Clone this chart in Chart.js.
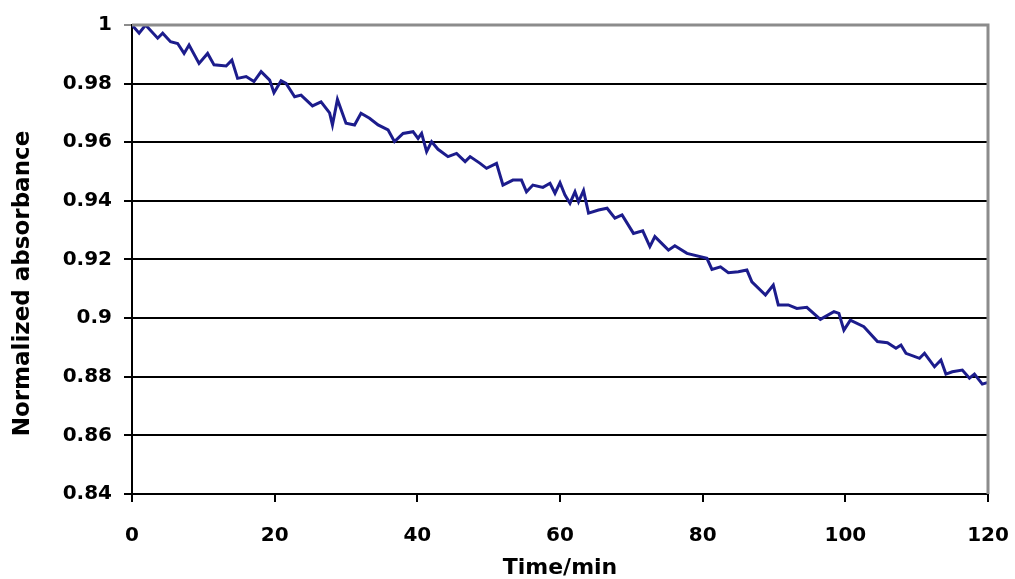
<!DOCTYPE html>
<html>
<head>
<meta charset="utf-8">
<script src="https://cdn.jsdelivr.net/npm/chart.js@4/dist/chart.umd.min.js"></script>
<style>
  html, body { margin: 0; padding: 0; background: #fff; }
  #wrap { width: 1015px; height: 579px; position: relative; }
</style>
</head>
<body>
<div id="wrap"><canvas id="c"></canvas></div>
<script>
// ── Absorbance decay over time ──
const timeMin = [
  0, 1.0, 1.9, 3.6, 4.3, 5.4, 6.4, 7.3, 8.0, 9.4, 10.6, 11.5, 13.2, 14.0, 14.8, 16.0, 17.1, 18.1, 19.3, 19.9,
  20.9, 21.6, 22.8, 23.7, 25.3, 26.5, 27.7, 28.1, 28.8, 30.0, 31.2, 32.1, 33.3, 34.5, 35.9, 36.8, 38.0, 39.4,
  40.1, 40.6, 41.3, 42.0, 42.9, 44.3, 45.5, 46.7, 47.4, 48.8, 49.7, 51.1, 52.0, 53.4, 54.6, 55.3, 56.2, 57.6,
  58.6, 59.3, 60.0, 60.7, 61.4, 62.1, 62.6, 63.3, 64.0, 65.4, 66.6, 67.7, 68.7, 70.3, 71.6, 72.6, 73.3, 75.2,
  76.1, 77.8, 80.6, 81.3, 82.5, 83.6, 85.0, 86.2, 86.9, 88.8, 89.9, 90.6, 92.0, 93.2, 94.6, 96.5, 98.4, 99.1,
  99.8, 100.7, 102.6, 104.5, 105.9, 107.1, 107.8, 108.5, 110.4, 111.1, 112.5, 113.4, 114.1, 115.0, 116.4,
  117.4, 118.1, 119.2, 119.9
];
const absorbance = [
  1.0, 0.9972, 1.0, 0.9955, 0.9972, 0.9943, 0.9937, 0.9903, 0.9932, 0.9869, 0.9903, 0.9864, 0.986, 0.988, 0.9818,
  0.9824, 0.9807, 0.9841, 0.9812, 0.9769, 0.981, 0.9801, 0.9755, 0.9761, 0.9724, 0.9738, 0.970, 0.9659, 0.9746,
  0.9665, 0.9659, 0.9699, 0.9682, 0.9659, 0.9642, 0.9602, 0.963, 0.9636, 0.9613, 0.963, 0.9568, 0.9602, 0.9576,
  0.9551, 0.9562, 0.9534, 0.9551, 0.9528, 0.9511, 0.9528, 0.9454, 0.9471, 0.9471, 0.9431, 0.9454, 0.9446, 0.946,
  0.9426, 0.9462, 0.942, 0.9392, 0.9431, 0.9397, 0.9435, 0.9358, 0.9369, 0.9375, 0.9341, 0.9352, 0.9289, 0.9298,
  0.9244, 0.9278, 0.9232, 0.9247, 0.9221, 0.9204, 0.9166, 0.9175, 0.9155, 0.9158, 0.9164, 0.9124, 0.9079, 0.9113,
  0.9045, 0.9045, 0.9033, 0.9037, 0.8996, 0.9022, 0.9016, 0.8959, 0.8993, 0.8971, 0.892, 0.8916, 0.8897, 0.8908,
  0.888, 0.8863, 0.888, 0.8834, 0.8857, 0.8809, 0.8817, 0.8823, 0.8795, 0.8809, 0.8775, 0.878
];
const xTicks = [0, 20, 40, 60, 80, 100, 120];
const yTicks = [0.84, 0.86, 0.88, 0.9, 0.92, 0.94, 0.96, 0.98, 1];

const points = timeMin.map((t, i) => ({ x: t, y: absorbance[i] }));
const FONT = 'DejaVu Sans';

// gray frame on the top and right edges of the plot
const frame = {
  id: 'frame',
  afterDraw(chart) {
    const a = chart.chartArea, ctx = chart.ctx;
    ctx.save();
    ctx.strokeStyle = '#8c8c8c';
    ctx.lineWidth = 3;
    ctx.beginPath();
    ctx.moveTo(a.left, a.top);
    ctx.lineTo(a.right, a.top);
    ctx.lineTo(a.right, a.bottom);
    ctx.stroke();
    ctx.restore();
  }
};

new Chart(document.getElementById('c'), {
  type: 'line',
  data: {
    datasets: [{
      data: points,
      borderColor: '#1c1c8c',
      borderWidth: 3,
      pointRadius: 0,
      tension: 0,
      fill: false
    }]
  },
  options: {
    responsive: true,
    maintainAspectRatio: false,
    animation: false,
    layout: { autoPadding: false, padding: { top: 25, right: 27, left: 0, bottom: 0 } },
    plugins: { legend: { display: false }, tooltip: { enabled: false } },
    scales: {
      x: {
        type: 'linear',
        min: 0, max: 120,
        afterBuildTicks: s => { s.ticks = xTicks.map(v => ({ value: v })); },
        // fixed box height, and no extra edge padding for the end labels
        afterFit: s => { s.height = 85; s.paddingLeft = 0; s.paddingRight = 0; },
        border: { color: '#000', width: 2 },
        grid: { drawOnChartArea: false, drawTicks: true, tickLength: 8, color: '#000', lineWidth: 2 },
        ticks: { color: '#000', padding: 22, maxRotation: 0, font: { family: FONT, weight: 'bold', size: 20 } },
        title: { display: true, text: 'Time/min', color: '#000', padding: { top: 0, bottom: 0 },
                 font: { family: FONT, weight: 'bold', size: 22, lineHeight: 1 } }
      },
      y: {
        min: 0.84, max: 1,
        afterBuildTicks: s => { s.ticks = yTicks.map(v => ({ value: v })); },
        afterFit: s => { s.width = 132; s.paddingTop = 0; s.paddingBottom = 0; },
        border: { color: '#000', width: 2 },
        grid: {
          drawTicks: true, tickLength: 8, lineWidth: 2,
          color: c => (c.tick && c.tick.value === 1 ? '#8c8c8c' : '#000')
        },
        ticks: {
          color: '#000', padding: 12,
          font: { family: FONT, weight: 'bold', size: 20 },
          callback: v => String(Math.round(v * 100) / 100)
        },
        // trailing spaces nudge the rotated title down to where the reference has it
        title: { display: true, text: 'Normalized absorbance      ', color: '#000', padding: { top: 12, bottom: 0 },
                 font: { family: FONT, weight: 'bold', size: 23, lineHeight: 1 } }
      }
    }
  },
  plugins: [frame]
});
</script>
</body>
</html>
